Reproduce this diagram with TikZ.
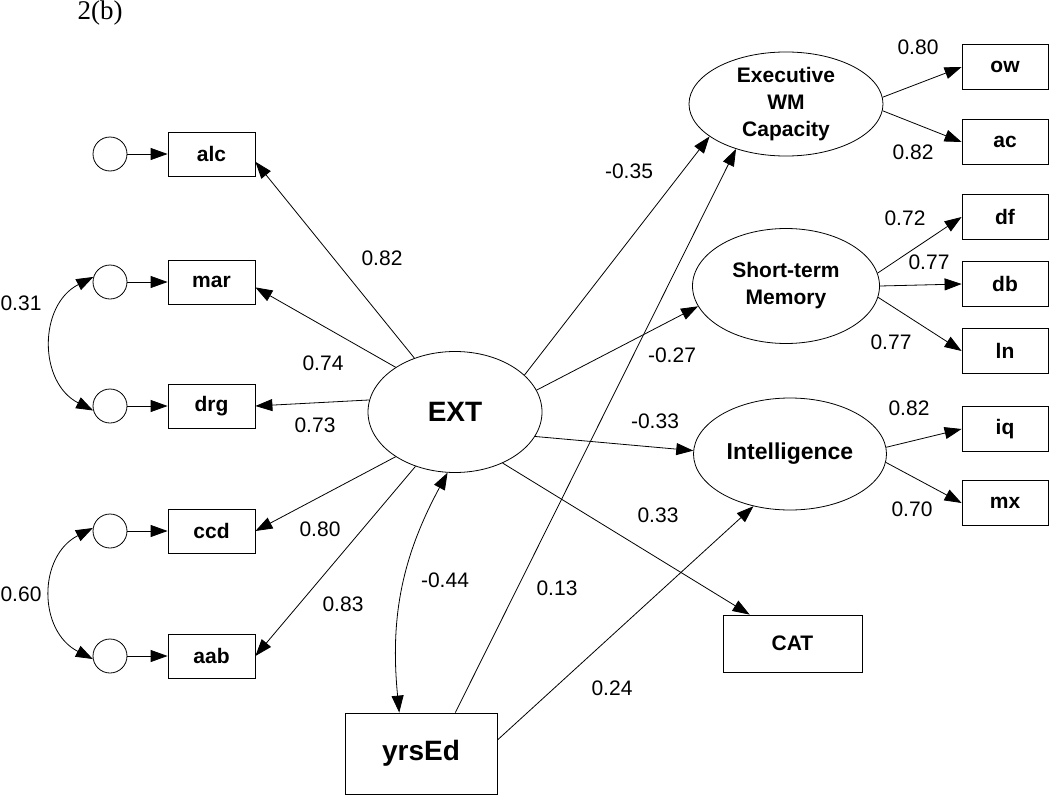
\documentclass[tikz,border=0pt]{standalone}
\usepackage{fontspec}
\setmainfont{Liberation Sans}
\newfontfamily\titlefont{Liberation Serif}
\usetikzlibrary{arrows.meta, shapes.geometric}

\begin{document}
\begin{tikzpicture}[x = 1pt, y = -1pt, line width = 0.8pt,
    >={Triangle[length = 17pt, width = 12pt]},
    obs/.style = {draw, minimum width = 87pt, minimum height = 44pt, inner sep = 0pt,
      font = \bfseries\fontsize{21}{25}\selectfont},
    lat/.style = {draw, ellipse, inner sep = 0pt, align = center,
      font = \bfseries\fontsize{21}{27}\selectfont},
    err/.style = {draw, circle, minimum size = 34pt, inner sep = 0pt},
    coef/.style = {font = \fontsize{21}{25}\selectfont}]
    \useasboundingbox (0, 0) rectangle (1050, 795);
    \node[font = \titlefont\fontsize{27}{30}\selectfont] (title) at (100, 13) {2(b)};

    % indicators of EXT with their errors
    \foreach \n/\y in {alc/154, mar/282, drg/406, ccd/531, aab/656} {
      \node[err] (e\n) at (110, \y) {};
      \node[obs] (\n) at (211.5, \y) {\n};
      \draw[->] (e\n) -- (\n);
    }
    \draw[<->] (emar.163) .. controls +(-55, 28) and +(-55, -28) .. (edrg.195);
    \draw[<->] (eccd.170) .. controls +(-55, 28) and +(-55, -28) .. (eaab.190);

    % latent variables
    \node[lat, minimum width = 174pt, minimum height = 121pt,
      font = \bfseries\fontsize{28}{32}\selectfont] (ext) at (455, 412) {EXT};
    \node[lat, minimum width = 194pt, minimum height = 104pt] (exec) at (786, 104) {Executive\\WM\\Capacity};
    \node[lat, minimum width = 187pt, minimum height = 115pt] (stm) at (786, 286) {Short-term\\Memory};
    \node[lat, minimum width = 193pt, minimum height = 112pt,
      font = \bfseries\fontsize{23}{27}\selectfont] (intel) at (790, 454) {Intelligence};

    \foreach \n/\y in {ow/67, ac/142, df/217, db/284, ln/351, iq/429, mx/503}
      \node[obs, minimum width = 86pt, minimum height = 45pt] (\n) at (1005, \y) {\n};
    \node[obs, minimum width = 139pt, minimum height = 57pt] (cat) at (792.5, 643.5) {CAT};
    \node[obs, minimum width = 152pt, minimum height = 81pt,
      font = \bfseries\fontsize{28}{32}\selectfont] (yrsed) at (421, 753.5) {yrsEd};

    % loadings
    \draw[->] (ext.127) -- (alc.-10);
    \draw[->] (ext.143) -- (mar.-7);
    \draw[->] (ext.172) -- (drg.east);
    \draw[->] (ext.217) -- (ccd.east);
    \draw[->] (ext.234) -- (aab.east);
    \draw[->] (exec.4) -- (ow.west);
    \draw[->] (exec.-4) -- (ac.west);
    \draw[->] (stm.8) -- (df.west);
    \draw[->] (stm.east) -- (db.west);
    \draw[->] (stm.-7) -- (ln.west);
    \draw[->] (intel.4) -- (iq.west);
    \draw[->] (intel.-5) -- (mx.west);

    % paths
    \draw[->] (ext.28) -- (exec.203);
    \draw[->] (ext.15) -- (stm.193);
    \draw[->] (ext.-17) -- (intel.178);
    \draw[->] (ext.-47) -- (cat.146);
    \draw[->] (yrsed.50) -- (exec.222);
    \draw[->] (yrsed.10) -- (intel.235);
    \draw[<->] (ext.263) to[bend right = 17] (yrsed.118);

    % coefficients
    \node[coef] (k-alc) at (382, 258) {0.82};
    \node[coef] (k-mar) at (323, 363) {0.74};
    \node[coef] (k-drg) at (315, 425) {0.73};
    \node[coef] (k-ccd) at (320, 529) {0.80};
    \node[coef] (k-aab) at (343, 604) {0.83};
    \node[coef] (k-e12) at (21, 303) {0.31};
    \node[coef] (k-e45) at (21, 594) {0.60};
    \node[coef] (k-yrs) at (445, 580) {-0.44};
    \node[coef] (k-yex) at (557, 588) {0.13};
    \node[coef] (k-yin) at (612, 688) {0.24};
    \node[coef] (k-exec) at (629, 171) {-0.35};
    \node[coef] (k-stm) at (672, 355) {-0.27};
    \node[coef] (k-intel) at (655, 421) {-0.33};
    \node[coef] (k-cat) at (658, 515) {0.33};
    \node[coef] (k-ow) at (918, 47) {0.80};
    \node[coef] (k-ac) at (913, 152) {0.82};
    \node[coef] (k-df) at (905, 218) {0.72};
    \node[coef] (k-db) at (929, 262) {0.77};
    \node[coef] (k-ln) at (891, 342) {0.77};
    \node[coef] (k-iq) at (909, 408) {0.82};
    \node[coef] (k-mx) at (912, 509) {0.70};
  \end{tikzpicture}
\end{document}
